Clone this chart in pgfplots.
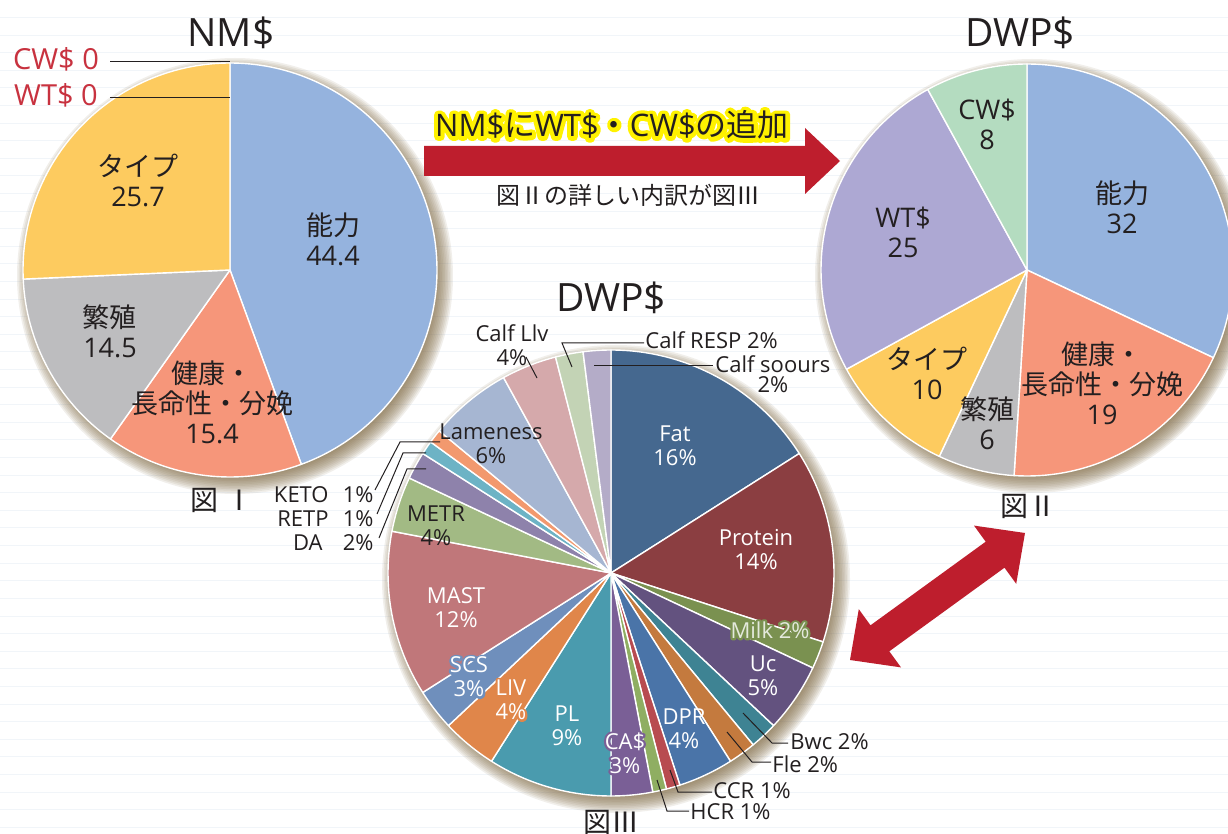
\documentclass[border=0pt]{standalone}
\usepackage{fontspec}
\setmainfont{Open Sans}
\newfontfamily\jp{Noto Sans CJK JP}
\newfontfamily\glowlatA[FakeBold=26]{Open Sans}
\newfontfamily\glowjpA[FakeBold=26]{Noto Sans CJK JP}
\newfontfamily\glowlatB[FakeBold=20]{Open Sans}
\newcommand\glowA{\glowlatA\let\jp\glowjpA}
\newcommand\glowB{\glowlatB}
\usepackage{pgfplots}
\usepackage{pgfplotstable}
\pgfplotsset{compat=1.18}

\definecolor{ink}{HTML}{231F20}
\definecolor{redlbl}{HTML}{C8323F}
\definecolor{arrowred}{HTML}{BE1E2D}
\definecolor{glow}{HTML}{FFF200}
\definecolor{shadowc}{HTML}{7E6840}
\definecolor{bgline}{HTML}{F1F5F9}
% pie I / II
\definecolor{cNoryoku}{HTML}{95B3DE}
\definecolor{cKenko}{HTML}{F6967A}
\definecolor{cHanshoku}{HTML}{BDBDBF}
\definecolor{cType}{HTML}{FDCB5F}
\definecolor{cWT}{HTML}{ADA8D3}
\definecolor{cCW}{HTML}{B4DCC0}
% pie III
\definecolor{cFat}{HTML}{45688F}
\definecolor{cProt}{HTML}{8B3E41}
\definecolor{cMilk}{HTML}{7A9150}
\definecolor{cUc}{HTML}{63527F}
\definecolor{cBwc}{HTML}{3E8393}
\definecolor{cFle}{HTML}{C47A3E}
\definecolor{cDPR}{HTML}{4A74A8}
\definecolor{cCCR}{HTML}{B84B50}
\definecolor{cHCR}{HTML}{8FAE62}
\definecolor{cCA}{HTML}{7A5F96}
\definecolor{cPL}{HTML}{4A9BAE}
\definecolor{cLIV}{HTML}{E0864A}
\definecolor{cSCS}{HTML}{6F8FBC}
\definecolor{cMAST}{HTML}{C0777A}
\definecolor{cMETR}{HTML}{A2BA84}
\definecolor{cDA}{HTML}{8E82AB}
\definecolor{cRETP}{HTML}{6DB3C5}
\definecolor{cKETO}{HTML}{F2996E}
\definecolor{cLame}{HTML}{A6B6D2}
\definecolor{cCLlv}{HTML}{D5A9AB}
\definecolor{cCRESP}{HTML}{C3D3B5}
\definecolor{cCsc}{HTML}{B4ACC8}

\pgfplotstableread{
v c
44.4 cNoryoku
15.4 cKenko
14.5 cHanshoku
25.7 cType
}\nmtable

\pgfplotstableread{
v c
32 cNoryoku
19 cKenko
6 cHanshoku
10 cType
25 cWT
8 cCW
}\dwptable

\pgfplotstableread{
v c
16 cFat
14 cProt
2 cMilk
5 cUc
2 cBwc
2 cFle
4 cDPR
1 cCCR
1 cHCR
3 cCA
9 cPL
4 cLIV
3 cSCS
12 cMAST
4 cMETR
2 cDA
1 cRETP
1 cKETO
6 cLame
4 cCLlv
2 cCRESP
2 cCsc
}\detailtable

% table, cx, cy, radius (px; 1px = 0.5pt)
\newcommand\drawpie[4]{%
  \pgfplotstablegetrowsof{#1}%
  \pgfmathtruncatemacro\nrows{\pgfplotsretval-1}%
  \gdef\cum{0}%
  \pgfmathsetmacro\rr{#4*0.5}%
  \foreach \i in {0,...,\nrows}{%
    \pgfplotstablegetelem{\i}{v}\of{#1}\global\let\val\pgfplotsretval
    \pgfplotstablegetelem{\i}{c}\of{#1}\global\let\col\pgfplotsretval
    \pgfmathsetmacro\aA{90-3.6*\cum}%
    \pgfmathsetmacro\aB{90-3.6*(\cum+\val)}%
    \edef\temp{\noexpand\fill[fill=\col,draw=white,line width=0.7pt,line join=round] (axis cs:#2,#3) -- ++(\aA:\rr pt) arc[start angle=\aA,end angle=\aB,radius=\rr pt] -- cycle;}%
    \temp
    \pgfmathsetmacro\newcum{\cum+\val}\xdef\cum{\newcum}%
  }%
}
% soft shadow: centre (already offset), radius px
\newcommand\pieshadow[3]{%
  \pgfplotsinvokeforeach{0,...,11}{%
    \fill[shadowc,opacity=0.1] (axis cs:#1,#2) circle[radius={(#3+11-1.6*##1)*0.5pt}];
  }%
}
% text with a glow: x, y, glow colour, text colour, size, text, glow font
\newcommand\halotext[7]{%
  \node[inner sep=0pt,align=center,font={#5#7},text=#3,line join=round] at (axis cs:#1,#2) {#6};
  \node[inner sep=0pt,align=center,font={#5},text=#4] at (axis cs:#1,#2) {#6};
}
\newcommand\szA{\fontsize{13.5}{15}\selectfont}
\newcommand\szB{\fontsize{11}{12}\selectfont}

\tikzset{
  ttl/.style={font=\fontsize{19.5}{21}\selectfont,text=ink,inner sep=0pt},
  lA/.style={font=\szA,text=ink,align=center,inner sep=0pt},
  lB/.style={font=\szB,text=ink,align=center,inner sep=0pt},
  lC/.style={font=\fontsize{11}{12}\selectfont,text=ink,inner sep=0pt},
  fig/.style={font=\fontsize{14}{16}\selectfont\jp,text=ink,inner sep=0pt},
  ldr/.style={draw=ink,line width=0.5pt},
}

\begin{document}
\begin{tikzpicture}
\begin{axis}[at={(0,0)},anchor=south west,scale only axis,
  width=614pt,height=417pt,xmin=0,xmax=1228,ymin=0,ymax=834,
  y dir=reverse,hide axis,clip=true]

% background
\fill[white] (axis cs:0,0) rectangle (axis cs:1228,834);
\pgfplotsinvokeforeach{1,...,47}{%
  \draw[bgline,line width=0.5pt] (axis cs:0,#1*17.6) -- (axis cs:1228,#1*17.6);
}

% shadows
\pieshadow{235}{276}{207}
\pieshadow{1032}{276}{206}
\pieshadow{616}{579}{223}

% pies
\drawpie{\nmtable}{230}{270}{207}
\drawpie{\dwptable}{1027}{270}{206}
\drawpie{\detailtable}{611}{573}{223}

% ---------- Pie I ----------
\node[ttl] at (axis cs:231,33) {NM\$};
\node[font=\fontsize{14.5}{16}\selectfont,text=redlbl,inner sep=0pt] at (axis cs:56,59) {CW\$ 0};
\node[font=\fontsize{14.5}{16}\selectfont,text=redlbl,inner sep=0pt] at (axis cs:56,95) {WT\$ 0};
\draw[ink,line width=0.8pt] (axis cs:110,61.5) -- (axis cs:230,61.5);
\draw[ink,line width=0.8pt] (axis cs:110,97.5) -- (axis cs:230,97.5);
\node[lA] at (axis cs:138,180) {{\jp タイプ}\\25.7};
\node[lA] at (axis cs:333,239) {{\jp 能力}\\44.4};
\node[lA] at (axis cs:110,331) {{\jp 繁殖}\\14.5};
\node[lA] at (axis cs:212,402) {{\jp 健康・}\\{\jp 長命性・分娩}\\15.4};
\node[fig] at (axis cs:222,500) {図 Ⅰ};

% ---------- Pie II ----------
\node[ttl] at (axis cs:1020,33) {DWP\$};
\node[lA] at (axis cs:987,124) {CW\$\\8};
\node[lA] at (axis cs:1122,207) {{\jp 能力}\\32};
\node[lA] at (axis cs:903,232) {WT\$\\25};
\node[lA] at (axis cs:927,373) {{\jp タイプ}\\10};
\node[lA] at (axis cs:987,423) {{\jp 繁殖}\\6};
\node[lA] at (axis cs:1102,383) {{\jp 健康・}\\{\jp 長命性・分娩}\\19};
\node[fig] at (axis cs:1028,506) {図Ⅱ};

% ---------- middle ----------
\fill[arrowred] (axis cs:424,146) -- (axis cs:805,146) -- (axis cs:805,128) -- (axis cs:840,161)
  -- (axis cs:805,194) -- (axis cs:805,176) -- (axis cs:424,176) -- cycle;
\halotext{612}{125}{glow}{ink}{\fontsize{15.5}{17}\selectfont}{NM\${\jp に}WT\${\jp ・}CW\${\jp の追加}}{\glowA}
\node[font=\fontsize{12}{14}\selectfont\jp,text=ink,inner sep=0pt] at (axis cs:628,195) {図Ⅱの詳しい内訳が図Ⅲ};
\fill[arrowred] (axis cs:850,660) -- (axis cs:901.0,667.4) -- (axis cs:889.3,651.3) -- (axis cs:1004.5,567.7)
  -- (axis cs:1016.2,583.8) -- (axis cs:1025,533) -- (axis cs:974.0,525.6) -- (axis cs:985.7,541.7)
  -- (axis cs:870.5,625.3) -- (axis cs:858.8,609.2) -- cycle;

% ---------- Pie III ----------
\node[ttl] at (axis cs:611,298) {DWP\$};
\node[lB,text=white] at (axis cs:675,446) {Fat\\16\%};
\node[lB,text=white] at (axis cs:756,550) {Protein\\14\%};
\halotext{770}{630}{cMilk}{white!80!cMilk}{\szB}{Milk 2\%}{\glowB}
\node[lB,text=white] at (axis cs:763,676) {Uc\\5\%};
\node[lB,text=white] at (axis cs:684,729) {DPR\\4\%};
\halotext{625}{753}{cCA}{white}{\szB}{CA\$\\3\%}{\glowB}
\node[lB,text=white] at (axis cs:567,726) {PL\\9\%};
\halotext{511}{700}{cLIV}{white}{\szB}{LIV\\4\%}{\glowB}
\halotext{469}{677}{cSCS}{white}{\szB}{SCS\\3\%}{\glowB}
\node[lB,text=white] at (axis cs:456,608) {MAST\\12\%};
\node[lB] at (axis cs:436,526) {METR\\4\%};
\node[lB] at (axis cs:491,444) {Lameness\\6\%};
\node[lB] at (axis cs:512,345) {Calf Llv\\4\%};
\node[lC,anchor=west] at (axis cs:645,340) {Calf RESP 2\%};
\node[lC,anchor=west] at (axis cs:715,364) {Calf soours};
\node[lC] at (axis cs:773,385) {2\%};
\node[lC,anchor=west] at (axis cs:790,742) {Bwc 2\%};
\node[lC,anchor=west] at (axis cs:772,764) {Fle 2\%};
\node[lC,anchor=west] at (axis cs:713,791) {CCR 1\%};
\node[lC,anchor=west] at (axis cs:690,812) {HCR 1\%};
\node[lC,anchor=east] at (axis cs:329,495) {KETO};
\node[lC,anchor=east] at (axis cs:374,495) {1\%};
\node[lC,anchor=east] at (axis cs:329,519) {RETP};
\node[lC,anchor=east] at (axis cs:323,543) {DA};
\node[lC,anchor=east] at (axis cs:374,519) {1\%};
\node[lC,anchor=east] at (axis cs:374,543) {2\%};
\node[fig] at (axis cs:611,822) {図Ⅲ};

% leaders
\draw[ldr] (axis cs:526,357) -- (axis cs:537,378);
\draw[ldr] (axis cs:572,367) -- (axis cs:562,343) -- (axis cs:644,343);
\draw[ldr] (axis cs:594,366) -- (axis cs:713,366);
\draw[ldr] (axis cs:743,713) -- (axis cs:772,743) -- (axis cs:788,743);
\draw[ldr] (axis cs:727,732) -- (axis cs:752,762) -- (axis cs:771,762);
\draw[ldr] (axis cs:670,770) -- (axis cs:678,792) -- (axis cs:712,792);
\draw[ldr] (axis cs:657,780) -- (axis cs:667,811) -- (axis cs:689,811);
\draw[ldr] (axis cs:375,490) -- (axis cs:400,442) -- (axis cs:440,442);
\draw[ldr] (axis cs:377,514) -- (axis cs:403,453) -- (axis cs:426,453);
\draw[ldr] (axis cs:379,538) -- (axis cs:407,469) -- (axis cs:426,469);
\end{axis}
\pgfresetboundingbox
\path (0,0) rectangle (614pt,417pt);
\end{tikzpicture}
\end{document}
